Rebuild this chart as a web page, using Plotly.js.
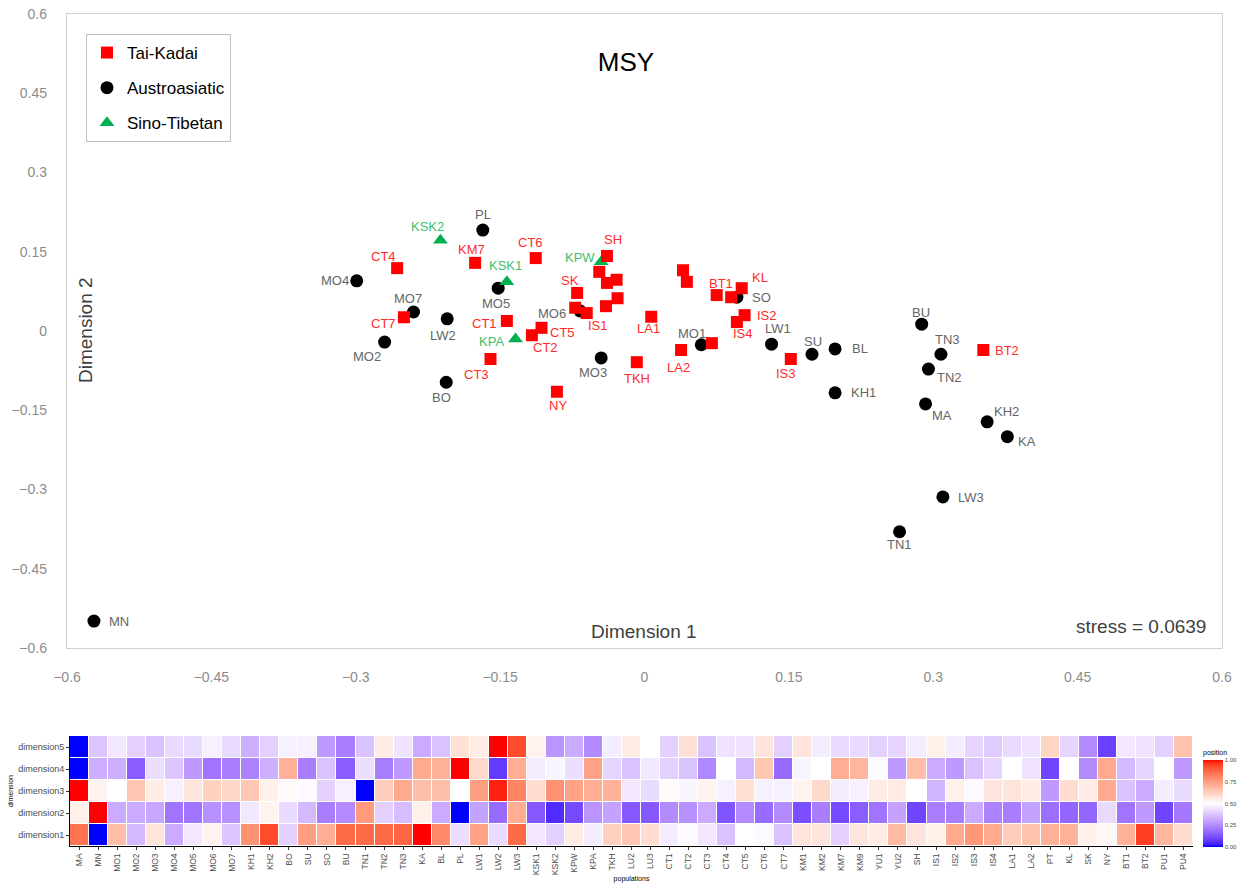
<!DOCTYPE html>
<html><head><meta charset="utf-8">
<script src="https://cdn.plot.ly/plotly-3.0.1.min.js"></script>
<style>html,body{margin:0;padding:0;background:#fff}#chart{width:1241px;height:883px}</style>
</head><body><div id="chart"></div>
<script>
// ---------- MDS scatter data ----------
const taiNames = ['CT4','KM7','CT6','SH','SK','CT7','CT1','CT5','CT2','CT3','NY','IS1','LA1','TKH','LA2','BT1','KL','IS2','IS4','IS3','BT2','KM1','KM9','LU3','PU4','KM2','YU1','PU1','LU2','PT','YU2'];
const taiX = [-0.257,-0.176,-0.113,-0.039,-0.070,-0.250,-0.143,-0.107,-0.117,-0.160,-0.091,-0.060,0.007,-0.008,0.038,0.075,0.101,0.104,0.096,0.152,0.352,-0.047,-0.039,-0.029,-0.028,-0.040,-0.072,0.040,0.044,0.090,0.070];
const taiY = [0.119,0.129,0.138,0.142,0.072,0.026,0.019,0.006,-0.008,-0.053,-0.115,0.034,0.027,-0.059,-0.036,0.068,0.081,0.030,0.017,-0.053,-0.036,0.112,0.091,0.097,0.062,0.047,0.044,0.115,0.093,0.064,-0.023];
const taiLabelled = ['CT4','KM7','CT6','SH','SK','CT7','CT1','CT5','CT2','CT3','NY','IS1','LA1','TKH','LA2','BT1','KL','IS2','IS4','IS3','BT2'];

const ausNames = ['PL','MO4','MO7','LW2','MO2','BO','MO5','MO6','MO3','MO1','SO','LW1','SU','BL','KH1','BU','TN3','TN2','MA','KH2','KA','LW3','TN1','MN'];
const ausX = [-0.168,-0.299,-0.240,-0.205,-0.270,-0.206,-0.152,-0.067,-0.045,0.059,0.096,0.132,0.174,0.198,0.198,0.288,0.308,0.295,0.292,0.356,0.377,0.310,0.265,-0.572];
const ausY = [0.191,0.095,0.036,0.023,-0.021,-0.097,0.081,0.038,-0.051,-0.026,0.064,-0.025,-0.044,-0.034,-0.117,0.013,-0.044,-0.072,-0.138,-0.172,-0.200,-0.314,-0.380,-0.549];

const sinoNames = ['KSK2','KSK1','KPA','KPW'];
const sinoX = [-0.212,-0.143,-0.134,-0.045];
const sinoY = [0.172,0.093,-0.015,0.131];

const stressText = 'stress = 0.0639';

// ---------- heatmap data ----------
const populations = ['MA','MN','MO1','MO2','MO3','MO4','MO5','MO6','MO7','KH1','KH2','BO','SU','SO','BU','TN1','TN2','TN3','KA','BL','PL','LW1','LW2','LW3','KSK1','KSK2','KPW','KPA','TKH','LU2','LU3','CT1','CT2','CT3','CT4','CT5','CT6','CT7','KM1','KM2','KM7','KM9','YU1','YU2','SH','IS1','IS2','IS3','IS4','LA1','LA2','PT','KL','SK','NY','BT1','BT2','PU1','PU4'];
const dimensions = ['dimension1','dimension2','dimension3','dimension4','dimension5'];
const dim1 = [0.85,0,0.67,0.35,0.57,0.32,0.45,0.53,0.38,0.78,0.93,0.40,0.75,0.71,0.87,0.87,0.87,0.88,1.00,0.80,0.43,0.74,0.42,0.87,0.45,0.40,0.55,0.46,0.62,0.65,0.59,0.46,0.49,0.45,0.37,0.50,0.49,0.37,0.57,0.57,0.40,0.57,0.55,0.68,0.57,0.54,0.72,0.77,0.72,0.63,0.66,0.70,0.70,0.54,0.52,0.70,0.95,0.69,0.59];
const dim2 = [0.54,1.00,0.32,0.32,0.31,0.20,0.20,0.26,0.26,0.45,0.53,0.42,0.35,0.22,0.25,0.76,0.40,0.36,0.54,0.32,0,0.30,0.18,0.71,0.14,0.05,0.11,0.27,0.30,0.14,0.14,0.25,0.26,0.32,0.13,0.25,0.18,0.25,0.12,0.22,0.11,0.15,0.20,0.30,0.10,0.22,0.22,0.32,0.23,0.22,0.30,0.19,0.17,0.17,0.42,0.20,0.28,0.10,0.21];
const dim3 = [1.00,0.53,0.50,0.65,0.55,0.47,0.57,0.62,0.61,0.65,0.54,0.51,0.49,0.40,0.47,0,0.63,0.72,0.67,0.67,0.50,0.75,0.98,0.81,0.59,0.78,0.74,0.71,0.70,0.45,0.42,0.51,0.48,0.53,0.47,0.58,0.47,0.47,0.53,0.60,0.46,0.47,0.55,0.55,0.50,0.34,0.54,0.49,0.57,0.57,0.55,0.28,0.59,0.55,0.72,0.37,0.32,0.46,0.42];
const dim4 = [0,0.33,0.33,0.15,0.43,0.38,0.28,0.20,0.22,0.23,0.33,0.70,0.22,0.37,0.15,0.43,0.22,0.28,0.72,0.70,1.00,0.60,0.08,0.71,0.46,0.48,0.43,0.74,0.41,0.37,0.45,0.40,0.37,0.24,0.50,0.35,0.65,0.18,0.48,0.50,0.71,0.69,0.49,0.28,0.67,0.32,0.28,0.37,0.41,0.50,0.44,0.10,0.50,0.25,0.72,0.35,0.41,0.50,0.28];
const dim5 = [0,0.38,0.45,0.40,0.37,0.42,0.42,0.47,0.42,0.33,0.40,0.47,0.47,0.28,0.22,0.37,0.55,0.44,0.32,0.37,0.58,0.55,1.00,0.93,0.53,0.27,0.32,0.25,0.46,0.55,0.50,0.40,0.58,0.37,0.44,0.44,0.57,0.40,0.57,0.46,0.42,0.42,0.40,0.41,0.46,0.54,0.46,0.41,0.39,0.42,0.44,0.61,0.41,0.25,0.09,0.45,0.44,0.40,0.66];

// ---------- styles ----------
const FONT = 'Liberation Sans, Arial, Helvetica, sans-serif';
// label centre offsets in screen pixels (dx right, dy down)
const labelOffset = {
  PL:[0,-16],MO4:[-22,0],MO7:[-6,-13],LW2:[-4,17],MO2:[-18,14],BO:[-5,15],MO5:[-2,15],MO6:[-28,3],MO3:[-8,15],MO1:[-9,-11],
  SO:[25,0],LW1:[6,-16],SU:[1,-13],BL:[25,0],KH1:[28,0],BU:[-1,-12],TN3:[7,-15],TN2:[21,8],MA:[16,12],KH2:[19,-10],KA:[20,5],
  LW3:[28,1],TN1:[0,13],MN:[25,0],
  KSK2:[-13,-14],KSK1:[-1,-16],KPA:[-24,3],KPW:[-21,-4],
  CT4:[-14,-12],KM7:[-4,-13],CT6:[-5,-16],SH:[6,-16],SK:[-7,-12],CT7:[-20,6],CT1:[-22,3],CT5:[21,5],CT2:[14,12],CT3:[-14,16],
  NY:[1,14],IS1:[11,12],LA1:[-3,12],TKH:[0,16],LA2:[-3,17],BT1:[4,-12],KL:[18,-11],IS2:[22,0],IS4:[6,11],IS3:[-5,15],BT2:[24,0]
};

// Lab-interpolated diverging colour scale (blue - white - red)
function s2l(c){c/=255;return c<=0.04045?c/12.92:Math.pow((c+0.055)/1.055,2.4);}
function l2s(c){c=c<=0.0031308?12.92*c:1.055*Math.pow(c,1/2.4)-0.055;return Math.round(Math.max(0,Math.min(1,c))*255);}
function rgb2lab(rgb){const r=s2l(rgb[0]),g=s2l(rgb[1]),b=s2l(rgb[2]);
  const X=(0.4124*r+0.3576*g+0.1805*b)/0.95047,Y=0.2126*r+0.7152*g+0.0722*b,Z=(0.0193*r+0.1192*g+0.9505*b)/1.08883;
  const f=t=>t>0.008856?Math.cbrt(t):7.787*t+16/116;const fx=f(X),fy=f(Y),fz=f(Z);
  return [116*fy-16,500*(fx-fy),200*(fy-fz)];}
function lab2rgb(lab){const fy=(lab[0]+16)/116,fx=fy+lab[1]/500,fz=fy-lab[2]/200;
  const fi=t=>t*t*t>0.008856?t*t*t:(t-16/116)/7.787;
  const X=fi(fx)*0.95047,Y=fi(fy),Z=fi(fz)*1.08883;
  return [l2s(3.2406*X-1.5372*Y-0.4986*Z),l2s(-0.9689*X+1.8758*Y+0.0415*Z),l2s(0.0557*X-0.2040*Y+1.0570*Z)];}
const labLow=rgb2lab([0,0,255]),labMid=rgb2lab([255,255,255]),labHigh=rgb2lab([255,0,0]);
const colorscale=[];
for(let i=0;i<=40;i++){const t=i/40;let a,b,u;
  if(t<=0.5){a=labLow;b=labMid;u=t/0.5;}else{a=labMid;b=labHigh;u=(t-0.5)/0.5;}
  const c=lab2rgb([a[0]+(b[0]-a[0])*u,a[1]+(b[1]-a[1])*u,a[2]+(b[2]-a[2])*u]);
  colorscale.push([t,'rgb('+c.join(',')+')']);}

// ---------- traces ----------
const traces = [
  {type:'scatter',mode:'markers',name:'Austroasiatic',x:ausX,y:ausY,text:ausNames,legendrank:2,legendgroup:'b',
   marker:{symbol:'circle',size:13,color:'#000000'},hoverinfo:'text',cliponaxis:false},
  {type:'scatter',mode:'markers',name:'Sino-Tibetan',x:sinoX,y:sinoY,text:sinoNames,legendrank:3,legendgroup:'c',
   marker:{symbol:'triangle-up',size:13,color:'#00B050'},hoverinfo:'text',cliponaxis:false},
  {type:'scatter',mode:'markers',name:'Tai-Kadai',x:taiX,y:taiY,text:taiNames,legendrank:1,legendgroup:'a',
   marker:{symbol:'square',size:12,color:'#FF0000'},hoverinfo:'text',cliponaxis:false},
  {type:'heatmap',x:populations,y:dimensions,z:[dim1,dim2,dim3,dim4,dim5],xaxis:'x2',yaxis:'y2',
   zmin:0,zmax:1,colorscale:colorscale,xgap:1,ygap:1,showlegend:false,
   colorbar:{x:1203/1241,xanchor:'left',y:1-847/883,yanchor:'bottom',len:100/883,lenmode:'fraction',
     thickness:20,thicknessmode:'pixels',outlinewidth:0,xpad:0,ypad:0,ticks:'',
     tickvals:[0,0.25,0.5,0.75,1],ticktext:['0.00','0.25','0.50','0.75','1.00'],
     tickfont:{size:6,color:'#4d4d4d',family:FONT},
     title:{text:'position',side:'top',font:{size:7,color:'#000',family:FONT}}}}
];

// ---------- annotations ----------
const annotations = [];
function addLabels(names,xs,ys,color,shown){
  names.forEach((n,i)=>{
    if(shown && shown.indexOf(n)<0) return;
    const off=labelOffset[n]||[0,-14];
    annotations.push({x:xs[i],y:ys[i],xref:'x',yref:'y',text:n,showarrow:false,xanchor:'center',yanchor:'middle',
      xshift:off[0],yshift:-off[1],font:{size:13,color:color,family:FONT}});
  });
}
addLabels(ausNames,ausX,ausY,'#666666',null);
addLabels(sinoNames,sinoX,sinoY,'#3DBE6E',null);
addLabels(taiNames,taiX,taiY,'#FF2B2B',taiLabelled);
annotations.push({text:'Dimension 1',xref:'paper',yref:'paper',x:644/1241,y:1-631/883,showarrow:false,xanchor:'center',yanchor:'middle',font:{size:19,color:'#404040',family:FONT}});
annotations.push({text:'Dimension 2',xref:'paper',yref:'paper',x:85/1241,y:1-330/883,showarrow:false,textangle:-90,xanchor:'center',yanchor:'middle',font:{size:19,color:'#404040',family:FONT}});
annotations.push({text:stressText,xref:'paper',yref:'paper',x:1208/1241,y:1-626/883,showarrow:false,xanchor:'right',yanchor:'middle',font:{size:19,color:'#404040',family:FONT}});

const axisCommon = {range:[-0.6,0.6],dtick:0.15,tick0:0,showgrid:false,zeroline:false,showline:true,mirror:true,
  linecolor:'#d0d0d0',linewidth:1.2,ticks:'',tickfont:{size:14,color:'#8c8c8c',family:FONT},ticklabelstandoff:16};

const layout = {
  width:1241,height:883,margin:{l:0,r:0,t:0,b:0},paper_bgcolor:'#ffffff',plot_bgcolor:'#ffffff',
  font:{family:FONT},
  title:{text:'MSY',x:626/1241,y:1-62/883,xanchor:'center',yanchor:'middle',font:{size:26,color:'#000000',family:FONT}},
  showlegend:true,
  legend:{x:86/1241,y:1-34/883,xanchor:'left',yanchor:'top',bordercolor:'#bfbfbf',borderwidth:1,bgcolor:'#ffffff',
    font:{size:17,color:'#000000',family:FONT},traceorder:'grouped',tracegroupgap:10},
  xaxis:Object.assign({},axisCommon,{domain:[67/1241,1222/1241],anchor:'y'}),
  yaxis:Object.assign({},axisCommon,{domain:[1-648/883,1-14/883],anchor:'x'}),
  xaxis2:{domain:[70/1241,1193/1241],anchor:'y2',type:'category',tickangle:-90,tickfont:{size:8.5,color:'#4d4d4d',family:FONT},
    ticks:'outside',ticklen:3,tickcolor:'#333',showline:true,linecolor:'#000',linewidth:1,showgrid:false,zeroline:false,
    title:{text:'populations',font:{size:7,color:'#000',family:FONT},standoff:3}},
  yaxis2:{domain:[1-846/883,1-736/883],anchor:'x2',type:'category',tickfont:{size:9,color:'#4d4d4d',family:FONT},
    ticks:'outside',ticklen:3,tickcolor:'#333',showline:true,linecolor:'#000',linewidth:1,showgrid:false,zeroline:false,
    title:{text:'dimension',font:{size:7,color:'#000',family:FONT},standoff:3}},
  annotations:annotations
};

Plotly.newPlot('chart',traces,layout,{displayModeBar:false,staticPlot:true});
</script></body></html>
